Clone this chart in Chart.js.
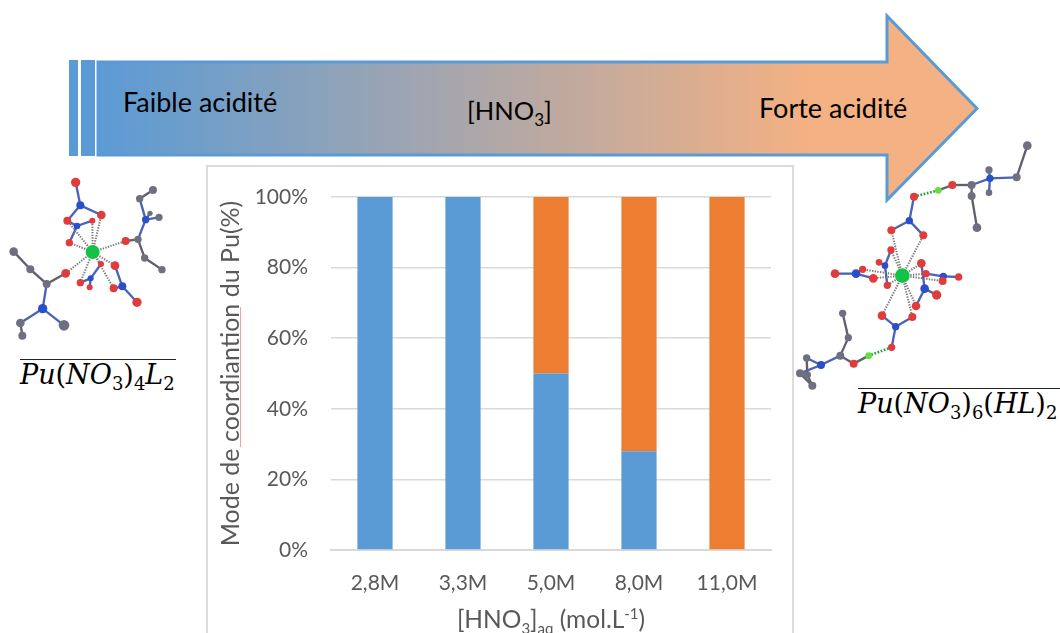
<!DOCTYPE html>
<html lang="fr">
<head>
<meta charset="utf-8">
<title>Mode de coordination du Pu</title>
<script src="https://cdn.jsdelivr.net/npm/chart.js@4/dist/chart.umd.min.js"></script>
<style>
  html, body { margin: 0; padding: 0; background: #fff; }
  body { position: relative; width: 1060px; height: 633px; overflow: hidden; font-family: Lato, sans-serif; }
  #art, #chart { position: absolute; left: 0; top: 0; }
  #frame { position: absolute; left: 206px; top: 165px; width: 588px; height: 500px; border: 2px solid #dcdcdc; box-sizing: border-box; }
  .label { position: absolute; color: #000; font-size: 27px; line-height: 32px; white-space: nowrap; }
  .label sub { font-size: 17px; line-height: 0; }
  #xTitle { position: absolute; left: 331px; width: 440px; top: 604px; text-align: center; color: #595959; font-size: 24.5px; line-height: 30px; white-space: nowrap; }
  #xTitle sub, #xTitle sup { font-size: 15px; line-height: 0; }
  #spell { position: absolute; left: 240px; top: 307px; width: 1px; height: 140px; background: #f2a0a0; }
  .formula { position: absolute; font-family: "DejaVu Serif", serif; font-style: italic; font-size: 27px; line-height: 30px; color: #000; border-top: 1px solid #222; white-space: nowrap; }
  .formula sub { font-size: 18px; line-height: 0; font-style: normal; }
  .formula span { font-style: normal; }
</style>
</head>
<body>
<div id="frame"></div>
<svg id="art" width="1060" height="633" xmlns="http://www.w3.org/2000/svg">
  <defs>
    <linearGradient id="acid" gradientUnits="userSpaceOnUse" x1="98" y1="0" x2="810" y2="0">
      <stop offset="0" stop-color="#5b9bd5"/>
      <stop offset="1" stop-color="#f4b183"/>
    </linearGradient>
  </defs>
  <rect x="69" y="60" width="9" height="96" fill="#5b9bd5"/>
  <rect x="81" y="60" width="14" height="96" fill="#5b9bd5"/>
  <path d="M98 62H887V16L977 108.5L887 200V155H98Z" fill="url(#acid)" stroke="#5b9bd5" stroke-width="3"/>
  <g id="molLeft" transform="translate(0,170) scale(0.3333)"></g>
  <g id="molRight" transform="translate(790,130) scale(0.3333)"></g>
</svg>
<div class="label" style="left:123px;top:86px">Faible acidité</div>
<div class="label" style="left:467px;top:94px;font-size:25.5px">[HNO<sub>3</sub>]</div>
<div class="label" style="left:759px;top:92px">Forte acidité</div>
<div class="formula" style="left:20px;top:359px;width:156px">Pu<span>(</span>NO<sub>3</sub><span>)</span><sub>4</sub>L<sub>2</sub></div>
<div class="formula" style="left:858px;top:388px;width:202px">Pu<span>(</span>NO<sub>3</sub><span>)</span><sub>6</sub><span>(</span>HL<span>)</span><sub>2</sub></div>
<canvas id="chart" width="1060" height="633"></canvas>
<div id="spell"></div>
<div id="xTitle">[HNO<sub>3</sub>]<sub>aq</sub> (mol.L<sup>-1</sup>)</div>

<script>
'use strict';

const categories = ['2,8M', '3,3M', '5,0M', '8,0M', '11,0M'];
const blueValues = [100, 100, 50, 28, 0];
const orangeValues = [0, 0, 50, 72, 100];
const yTitle = 'Mode de coordiantion du Pu(%)';

// molecule sketches, in zoomed picture units
const COLORS = { r: '#e23b3b', b: '#2a4fc9', g: '#6f6f82', c: '#14c247', l: '#66dd44' };

const drawMolecule = (id, atoms, bonds, links, greenLinks) => {
  const group = document.getElementById(id);
  let html = '';
  bonds.forEach(([a, b]) => {
    const col = atoms[a][3] === 'b' || atoms[b][3] === 'b' ? '#4a63b8' : '#5f5f70';
    html += `<line x1="${atoms[a][0]}" y1="${atoms[a][1]}" x2="${atoms[b][0]}" y2="${atoms[b][1]}" stroke="${col}" stroke-width="7"/>`;
  });
  links.forEach(([a, b]) => {
    html += `<line x1="${atoms[a][0]}" y1="${atoms[a][1]}" x2="${atoms[b][0]}" y2="${atoms[b][1]}" stroke="#777" stroke-width="6" stroke-dasharray="4 4"/>`;
  });
  greenLinks.forEach(([a, b]) => {
    html += `<line x1="${atoms[a][0]}" y1="${atoms[a][1]}" x2="${atoms[b][0]}" y2="${atoms[b][1]}" stroke="#1fa52f" stroke-width="8" stroke-dasharray="5 5"/>`;
  });
  atoms.forEach(([x, y, r, c]) => {
    html += `<circle cx="${x}" cy="${y}" r="${r + 2}" fill="${COLORS[c]}"/>`;
  });
  group.innerHTML = html;
};

const leftAtoms = [
  [278, 246, 19, 'c'],
  [227, 37, 12, 'r'], [304, 135, 11, 'r'], [202, 152, 10, 'r'], [277, 152, 7, 'r'], [208, 218, 9, 'r'],
  [377, 213, 10, 'r'], [197, 310, 11, 'r'], [345, 287, 11, 'r'], [303, 282, 7, 'r'], [241, 338, 9, 'r'],
  [269, 352, 7, 'r'], [341, 355, 10, 'r'], [411, 397, 12, 'r'],
  [241, 106, 10, 'b'], [231, 168, 8, 'b'], [437, 149, 9, 'b'], [128, 416, 12, 'b'], [272, 325, 7, 'b'], [367, 349, 10, 'b'],
  [459, 60, 10, 'g'], [419, 86, 9, 'g'], [450, 130, 6, 'g'], [477, 142, 9, 'g'], [414, 208, 9, 'g'], [434, 264, 9, 'g'],
  [486, 299, 9, 'g'], [41, 245, 11, 'g'], [91, 298, 10, 'g'], [140, 342, 10, 'g'], [61, 459, 11, 'g'], [192, 466, 14, 'g'], [67, 497, 10, 'g']
];
const leftBonds = [
  [1, 14], [14, 2], [14, 3], [15, 3], [15, 4], [15, 5], [20, 21], [21, 16], [16, 23], [16, 22], [16, 24], [24, 6], [24, 25],
  [25, 26], [27, 28], [28, 29], [29, 7], [29, 17], [17, 30], [30, 32], [17, 31], [18, 9], [18, 10], [18, 11], [19, 8], [19, 12], [19, 13]
];
const leftLinks = [[0, 2], [0, 3], [0, 4], [0, 5], [0, 6], [0, 7], [0, 8], [0, 9], [0, 10], [0, 12]];

const rightAtoms = [
  [337, 437, 20, 'c'],
  [712, 47, 11, 'g'], [680, 142, 10, 'g'], [600, 145, 9, 'b'], [597, 120, 9, 'g'], [597, 188, 8, 'g'], [545, 165, 10, 'g'],
  [487, 165, 10, 'r'], [445, 181, 8, 'l'], [372, 200, 10, 'r'], [358, 272, 9, 'b'], [304, 301, 10, 'r'], [400, 316, 10, 'r'],
  [545, 198, 10, 'g'], [561, 293, 11, 'g'],
  [303, 360, 9, 'r'], [267, 397, 8, 'r'], [285, 407, 8, 'b'], [292, 466, 9, 'r'], [135, 431, 11, 'r'], [198, 431, 11, 'b'],
  [218, 418, 9, 'r'], [250, 445, 11, 'r'], [394, 400, 11, 'r'], [408, 431, 9, 'r'], [460, 439, 9, 'b'], [506, 441, 9, 'r'],
  [458, 453, 10, 'r'], [404, 476, 11, 'b'], [440, 495, 12, 'r'], [378, 528, 11, 'r'],
  [276, 557, 11, 'r'], [367, 561, 10, 'r'], [317, 590, 9, 'b'], [305, 652, 9, 'r'], [236, 677, 8, 'l'], [191, 701, 10, 'r'],
  [151, 677, 10, 'g'], [175, 623, 9, 'g'], [158, 550, 9, 'g'], [93, 705, 10, 'b'], [50, 684, 9, 'g'], [30, 730, 10, 'g'],
  [52, 735, 9, 'g'], [67, 767, 10, 'g']
];
const rightBonds = [
  [1, 2], [2, 3], [3, 4], [3, 5], [3, 6], [6, 7], [7, 8], [9, 10], [10, 11], [10, 12], [6, 13], [13, 14],
  [15, 17], [16, 17], [17, 18], [19, 20], [20, 21], [20, 22], [23, 28], [24, 25], [25, 26], [25, 27], [28, 29], [28, 30],
  [31, 33], [32, 33], [33, 34], [35, 36], [36, 37], [37, 38], [38, 39], [37, 40], [40, 41], [40, 42], [41, 43], [42, 44], [43, 44]
];
const rightLinks = [[0, 11], [0, 12], [0, 15], [0, 18], [0, 21], [0, 22], [0, 23], [0, 24], [0, 27], [0, 30], [0, 31], [0, 32]];
const rightGreen = [[9, 8], [34, 35]];

drawMolecule('molLeft', leftAtoms, leftBonds, leftLinks, []);
drawMolecule('molRight', rightAtoms, rightBonds, rightLinks, rightGreen);

new Chart(document.getElementById('chart'), {
  type: 'bar',
  data: {
    labels: categories,
    datasets: [
      { label: 'Série 1', data: blueValues, backgroundColor: '#5b9bd5', categoryPercentage: 1, barPercentage: 0.4 },
      { label: 'Série 2', data: orangeValues, backgroundColor: '#ed7d31', categoryPercentage: 1, barPercentage: 0.4 }
    ]
  },
  options: {
    responsive: false,
    animation: false,
    layout: { padding: { left: 216, top: 197, right: 289, bottom: 0 } },
    plugins: { legend: { display: false }, tooltip: { enabled: false } },
    scales: {
      x: {
        stacked: true,
        afterFit: (scale) => { scale.height = 83; },
        grid: { display: false, drawTicks: false },
        border: { color: '#d9d9d9', width: 2 },
        ticks: { color: '#595959', font: { family: 'Lato', size: 21 }, padding: 21, maxRotation: 0 }
      },
      y: {
        stacked: true,
        min: 0,
        max: 100,
        afterFit: (scale) => { scale.width = 115; },
        grid: { color: '#d9d9d9', lineWidth: 1.5, drawTicks: false },
        border: { display: false },
        ticks: {
          stepSize: 20,
          color: '#595959',
          font: { family: 'Lato', size: 21 },
          padding: 23,
          callback: (value) => value + '%'
        },
        title: {
          display: true,
          text: yTitle,
          color: '#595959',
          font: { family: 'Lato', size: 25, weight: 'normal' },
          padding: 0
        }
      }
    }
  }
});
</script>
</body>
</html>
